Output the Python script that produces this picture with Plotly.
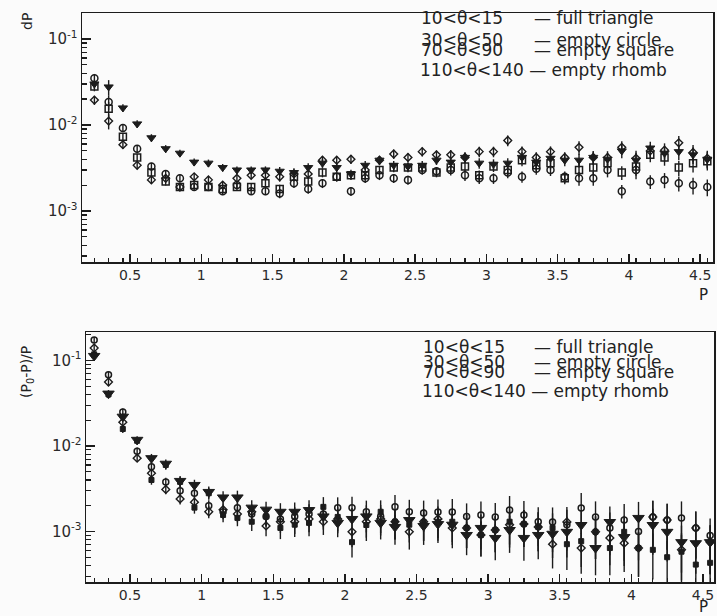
import plotly.graph_objects as go

W, H = 717, 616

# ---------------- data ----------------
P = [0.25, 0.35, 0.45, 0.55, 0.65, 0.75, 0.85, 0.95, 1.05, 1.15,
     1.25, 1.35, 1.45, 1.55, 1.65, 1.75, 1.85, 1.95, 2.05, 2.15,
     2.25, 2.35, 2.45, 2.55, 2.65, 2.75, 2.85, 2.95, 3.05, 3.15,
     3.25, 3.35, 3.45, 3.55, 3.65, 3.75, 3.85, 3.95, 4.05, 4.15,
     4.25, 4.35, 4.45, 4.55]

# top panel: dP
dP_tri = [0.030, 0.0277, 0.0158, 0.0103, 0.0071, 0.0053, 0.0047, 0.0037, 0.0036, 0.0032,
          0.0030, 0.0030, 0.0030, 0.0029, 0.0028, 0.0032, 0.0036, 0.0032, 0.0027, 0.0034,
          0.0039, 0.0034, 0.0033, 0.0034, 0.0039, 0.0037, 0.0042, 0.0036, 0.0035, 0.0036,
          0.0042, 0.0037, 0.0041, 0.0039, 0.0039, 0.0042, 0.0040, 0.0050, 0.0039, 0.0054,
          0.0047, 0.0049, 0.0045, 0.0040]
dP_circ = [0.035, 0.0185, 0.0092, 0.0053, 0.0033, 0.0027, 0.0024, 0.0019, 0.0019, 0.0017,
           0.0020, 0.0017, 0.0017, 0.0016, 0.0021, 0.0018, 0.0021, 0.0025, 0.0017, 0.0024,
           0.0026, 0.0024, 0.0023, 0.0030, 0.0029, 0.0030, 0.0026, 0.0024, 0.0024, 0.0028,
           0.0025, 0.0031, 0.0030, 0.0025, 0.0024, 0.0024, 0.0030, 0.0017, 0.0030, 0.0022,
           0.0023, 0.0021, 0.0020, 0.0019]
dP_sq = [0.028, 0.0154, 0.0073, 0.0042, 0.0028, 0.0022, 0.0019, 0.0020, 0.0019, 0.0018,
         0.0019, 0.0019, 0.0021, 0.0018, 0.0025, 0.0022, 0.0028, 0.0025, 0.0026, 0.0026,
         0.0030, 0.0032, 0.0032, 0.0032, 0.0028, 0.0032, 0.0033, 0.0026, 0.0033, 0.0030,
         0.0039, 0.0034, 0.0036, 0.0024, 0.0030, 0.0032, 0.0036, 0.0028, 0.0033, 0.0045,
         0.0042, 0.0032, 0.0036, 0.0038]
dP_rh = [0.0195, 0.0111, 0.0059, 0.0034, 0.0023, 0.0024, 0.0019, 0.0025, 0.0023, 0.0020,
         0.0024, 0.0026, 0.0026, 0.0025, 0.0027, 0.0027, 0.0039, 0.0039, 0.0040, 0.0030,
         0.0039, 0.0046, 0.0042, 0.0049, 0.0045, 0.0045, 0.0042, 0.0049, 0.0049, 0.0066,
         0.0049, 0.0042, 0.0049, 0.0042, 0.0055, 0.0042, 0.0042, 0.0055, 0.0041, 0.0050,
         0.0051, 0.0062, 0.0048, 0.0041]
dP_err_pct = [12, 20, 10, 10, 10, 10, 10, 10, 10, 10,
              10, 10, 10, 12, 12, 12, 12, 12, 12, 12,
              12, 12, 12, 12, 12, 14, 14, 14, 14, 14,
              15, 15, 15, 15, 18, 18, 18, 18, 22, 18,
              20, 20, 22, 22]

# bottom panel: (P0-P)/P
rel_tri = [0.113, 0.041, 0.022, 0.0118, 0.0072, 0.0062, 0.0039, 0.0035, 0.0029, 0.0025,
           0.0025, 0.0019, 0.0018, 0.0017, 0.0017, 0.00178, 0.0015, 0.00126, 0.0014, 0.0015,
           0.00126, 0.00113, 0.00136, 0.00116, 0.00122, 0.0012, 0.00091, 0.0011, 0.00084, 0.00104,
           0.00084, 0.00091, 0.00094, 0.00099, 0.00119, 0.00064, 0.00129, 0.00086, 0.00144, 0.00119,
           0.00099, 0.00075, 0.00073, 0.00075]
rel_circ = [0.174, 0.068, 0.025, 0.0087, 0.0057, 0.0038, 0.0030, 0.0028, 0.0020, 0.0017,
            0.0019, 0.0016, 0.0015, 0.0014, 0.0015, 0.0016, 0.0016, 0.0019, 0.0019, 0.0017,
            0.0015, 0.00194, 0.0017, 0.00164, 0.00169, 0.00169, 0.0015, 0.00156, 0.00148, 0.00178,
            0.00156, 0.0013, 0.00129, 0.0012, 0.00188, 0.00148, 0.0011, 0.00136, 0.0010, 0.00148,
            0.00136, 0.00144, 0.0011, 0.0009]
rel_sq = [0.118, 0.040, 0.0158, 0.0115, 0.0040, 0.0060, 0.0038, 0.0019, 0.0028, 0.00156,
          0.00144, 0.0013, 0.0015, 0.0011, 0.0012, 0.00126, 0.00194, 0.00148, 0.00075, 0.00119,
          0.0017, 0.0013, 0.0012, 0.00129, 0.0013, 0.0013, 0.0011, 0.00091, 0.00104, 0.0013,
          0.00122, 0.00113, 0.0011, 0.00071, 0.00077, 0.00099, 0.00064, 0.00099, 0.00064, 0.00061,
          0.00050, 0.00058, 0.00041, 0.00043]
rel_rh = [0.140, 0.056, 0.019, 0.0072, 0.0048, 0.0031, 0.0024, 0.0022, 0.0017, 0.0018,
          0.0016, 0.0017, 0.00116, 0.0013, 0.0013, 0.0014, 0.0013, 0.0014, 0.00099, 0.0013,
          0.0014, 0.0013, 0.00099, 0.0013, 0.0014, 0.0011, 0.0011, 0.00091, 0.00104, 0.0012,
          0.00122, 0.00113, 0.00071, 0.00129, 0.00064, 0.00099, 0.00084, 0.00073, 0.00064, 0.00148,
          0.00136, 0.00061, 0.0011, 0.00075]
rel_err_pct = [8, 10, 10, 10, 12, 12, 14, 15, 16, 18,
               20, 22, 24, 26, 28, 30, 30, 32, 34, 35,
               36, 38, 38, 40, 40, 42, 42, 44, 45, 46,
               46, 48, 48, 50, 50, 52, 52, 54, 54, 55,
               55, 56, 56, 58]

x_ticks = [0.5, 1, 1.5, 2, 2.5, 3, 3.5, 4, 4.5]
x_tick_labels = ["0.5", "1", "1.5", "2", "2.5", "3", "3.5", "4", "4.5"]
y_ticks = [0.1, 0.01, 0.001]
y_tick_labels = ["10<sup>-1</sup>", "10<sup>-2</sup>", "10<sup>-3</sup>"]

legend_ranges = ["10<θ<15", "30<θ<50", "70<θ<90"]
legend_names = ["— full triangle", "— empty circle", "— empty square"]
legend_last = "110<θ<140 — empty rhomb"

# ---------------- style ----------------
INK = "#1c1c1c"
FONT = "DejaVu Sans"

def px(x):
    return x / W

def py(y):
    return 1 - y / H

fig = go.Figure()

def add_series(xa, ya, yvals, errs, symbol, size, lw):
    fig.add_trace(go.Scatter(
        x=P, y=yvals, xaxis=xa, yaxis=ya, mode="markers",
        marker=dict(symbol=symbol, size=size, color=INK,
                    line=dict(color=INK, width=lw)),
        error_y=dict(type="data", array=[v * e / 100 for v, e in zip(yvals, errs)],
                     color=INK, thickness=1.4, width=0),
        showlegend=False, hoverinfo="skip"))

# top
add_series("x", "y", dP_circ, dP_err_pct, "circle-open", 7, 1.5)
add_series("x", "y", dP_sq, dP_err_pct, "square-open", 7, 1.5)
add_series("x", "y", dP_rh, dP_err_pct, "diamond-open", 6, 1.4)
add_series("x", "y", dP_tri, dP_err_pct, "triangle-down", 8, 1)
# bottom
add_series("x2", "y2", rel_circ, rel_err_pct, "circle-open", 6, 1.5)
add_series("x2", "y2", rel_rh, rel_err_pct, "diamond-open", 6, 1.4)
add_series("x2", "y2", rel_sq, rel_err_pct, "square", 5, 1)
add_series("x2", "y2", rel_tri, rel_err_pct, "triangle-down", 10, 1)

minor_y = []
for dec in [1e-4, 1e-3, 1e-2, 1e-1]:
    for k in range(2, 10):
        minor_y.append(k * dec)

def xaxis(domain, rng, anchor):
    return dict(domain=domain, range=rng, anchor=anchor, showgrid=False, zeroline=False,
                showline=True, linecolor=INK, linewidth=1.5, mirror=True,
                tickmode="array", tickvals=x_ticks, ticktext=x_tick_labels,
                ticks="inside", ticklen=8, tickwidth=1.4, tickcolor=INK,
                tickfont=dict(family=FONT, size=14, color="#2a2a2a"),
                minor=dict(dtick=0.1, tick0=0.05, ticks="inside", ticklen=4,
                           tickwidth=1.2, tickcolor=INK, showgrid=False))

def yaxis(domain, rng, anchor):
    return dict(domain=domain, range=rng, anchor=anchor, type="log", showgrid=False,
                zeroline=False, showline=True, linecolor=INK, linewidth=1.5, mirror=True,
                tickmode="array", tickvals=y_ticks, ticktext=y_tick_labels,
                ticks="inside", ticklen=9, tickwidth=1.4, tickcolor=INK,
                tickfont=dict(family=FONT, size=15, color="#2a2a2a"),
                minor=dict(tickmode="array", tickvals=minor_y, ticks="inside", ticklen=5,
                           tickwidth=1.2, tickcolor=INK, showgrid=False))

fig.update_layout(
    width=W, height=H, margin=dict(l=0, r=0, t=0, b=0),
    paper_bgcolor="#fbfbfb", plot_bgcolor="#fbfbfb",
    xaxis=xaxis([px(82), px(713)], [0.163, 4.59], "y"),
    yaxis=yaxis([py(262), py(13)], [-3.593, -0.698], "x"),
    xaxis2=xaxis([px(86), px(714)], [0.193, 4.577], "y2"),
    yaxis2=yaxis([py(582), py(332)], [-3.591, -0.667], "x2"),
)

ann = []
def text(x, y, s, size=17, xanchor="left", angle=0):
    ann.append(dict(x=px(x), y=py(y), xref="paper", yref="paper", text=s,
                    showarrow=False, xanchor=xanchor, yanchor="middle", textangle=angle,
                    font=dict(family=FONT, size=size, color="#222")))

# axis titles
text(27, 22, "dP", size=14, xanchor="center", angle=-90)
text(27, 372, "(P<sub>0</sub>-P)/P", size=14, xanchor="center", angle=-90)
text(703, 295, "P", size=15, xanchor="center")
text(703, 607, "P", size=15, xanchor="center")

# legends (text only)
top_rows = [18, 40, 50]
for r, n, y in zip(legend_ranges, legend_names, top_rows):
    text(419, y, r)
    text(532, y, n)
text(418, 70, legend_last)

bot_rows = [347, 362, 372]
for r, n, y in zip(legend_ranges, legend_names, bot_rows):
    text(421, y, r)
    text(532, y, n)
text(420, 391, legend_last)

fig.update_layout(annotations=ann)
fig.write_html(
    "out.html",
    config={"displayModeBar": False, "staticPlot": True},
    post_script="document.body.style.margin='0';document.body.style.overflow='hidden';",
)
